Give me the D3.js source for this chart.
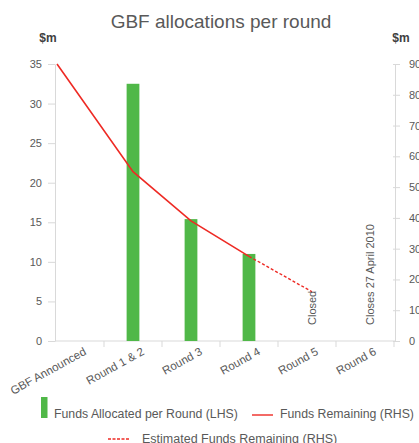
<!DOCTYPE html>
<html>
<head>
<meta charset="utf-8">
<script src="https://cdn.jsdelivr.net/npm/d3@7"></script>
<style>
  body { margin: 0; background: #fff; }
  svg { font-family: "Liberation Sans", Arial, sans-serif; }
</style>
</head>
<body>
<div id="chart"></div>
<script>
const categories = ["GBF Announced", "Round 1 & 2", "Round 3", "Round 4", "Round 5", "Round 6"];
const allocated = [null, 32.5, 15.4, 11.0, null, null];          // LHS, $m
const remaining = [90, 55, 39, 27.5];                             // RHS, GBF Announced .. Round 4
const estimated = [27.5, 16];                                     // RHS, Round 4 .. Round 5
const leftTicks = [0, 5, 10, 15, 20, 25, 30, 35];
const rightTicks = [0, 10, 20, 30, 40, 50, 60, 70, 80, 90];
const notes = [
  { cat: "Round 5", text: "Closed" },
  { cat: "Round 6", text: "Closes 27 April 2010" }
];

const W = 419, H = 443;
const plotLeft = 55, plotRight = 395, plotTop = 64, plotBottom = 341;
const textCol = "#595959", axisCol = "#d9d9d9";
const green = "#50b848", red = "#ee2a24";

const svg = d3.select("#chart")
  .append("svg")
  .attr("width", W)
  .attr("height", H);

const x = d3.scaleBand()
  .domain(categories)
  .range([46, 394]);

const yL = d3.scaleLinear().domain([0, 35]).range([plotBottom, plotTop]);
const yR = d3.scaleLinear().domain([0, 90]).range([plotBottom, plotTop]);

const cx = c => x(c) + x.bandwidth() / 2;

// title
svg.append("text")
  .attr("x", 221)
  .attr("y", 28)
  .attr("text-anchor", "middle")
  .attr("font-size", 19)
  .attr("fill", textCol)
  .text("GBF allocations per round");

// unit labels
svg.append("text")
  .attr("x", 48).attr("y", 42)
  .attr("text-anchor", "middle")
  .attr("font-size", 12).attr("font-weight", "bold")
  .attr("fill", "#404040")
  .text("$m");
svg.append("text")
  .attr("x", 401).attr("y", 42)
  .attr("text-anchor", "middle")
  .attr("font-size", 12).attr("font-weight", "bold")
  .attr("fill", "#404040")
  .text("$m");

// left axis
const gL = svg.append("g")
  .attr("transform", `translate(${plotLeft},0)`)
  .call(d3.axisLeft(yL).tickValues(leftTicks).tickSize(7).tickPadding(6).tickSizeOuter(0));

// right axis
const gR = svg.append("g")
  .attr("transform", `translate(${plotRight},0)`)
  .call(d3.axisRight(yR).tickValues(rightTicks).tickSize(5).tickPadding(9).tickSizeOuter(0));
gR.selectAll(".tick line").attr("x1", -2);

// x axis
const xAxis = svg.append("g").attr("transform", `translate(0,${plotBottom})`);
xAxis.append("line")
  .attr("x1", plotLeft).attr("x2", plotRight)
  .attr("stroke", axisCol);
xAxis.selectAll(".xt")
  .data(categories)
  .enter()
  .append("line")
  .attr("class", "xt")
  .attr("x1", d => x(d) + x.step())
  .attr("x2", d => x(d) + x.step())
  .attr("y1", 0).attr("y2", 6)
  .attr("stroke", axisCol);
xAxis.selectAll(".xl")
  .data(categories)
  .enter()
  .append("text")
  .attr("class", "xl")
  .attr("transform", d => `translate(${cx(d) + 12},13) rotate(-29)`)
  .attr("text-anchor", "end")
  .attr("font-size", 11.5)
  .attr("fill", textCol)
  .text(d => d);

[gL, gR].forEach(g => {
  g.select(".domain").attr("stroke", axisCol);
  g.selectAll(".tick line").attr("stroke", axisCol);
  g.selectAll(".tick text").attr("fill", textCol).attr("font-size", 11)
    .attr("font-family", "'Liberation Sans', Arial, sans-serif");
});

// bars
const barW = x.bandwidth() * 0.22;
svg.selectAll(".bar")
  .data(categories.map((c, i) => ({ c, v: allocated[i] })).filter(d => d.v != null))
  .enter()
  .append("rect")
  .attr("class", "bar")
  .attr("x", d => cx(d.c) - barW / 2)
  .attr("y", d => yL(d.v))
  .attr("width", barW)
  .attr("height", d => yL(0) - yL(d.v))
  .attr("fill", green);

// funds remaining line (first point sits on the left edge of the plot)
const lineX = (c, i) => i === 0 ? plotLeft + 2 : cx(c);
const line = d3.line().x(d => d.x).y(d => yR(d.v));

svg.append("path")
  .datum(remaining.map((v, i) => ({ x: lineX(categories[i], i), v })))
  .attr("d", line)
  .attr("fill", "none")
  .attr("stroke", red)
  .attr("stroke-width", 1.6);

const estStart = remaining.length - 1;
svg.append("path")
  .datum(estimated.map((v, i) => ({ x: lineX(categories[estStart + i], estStart + i) + (i ? 5 : 0), v })))
  .attr("d", line)
  .attr("fill", "none")
  .attr("stroke", red)
  .attr("stroke-width", 1.4)
  .attr("stroke-dasharray", "3,2");

// vertical notes
svg.selectAll(".note")
  .data(notes)
  .enter()
  .append("text")
  .attr("class", "note")
  .attr("transform", d => `translate(${cx(d.cat) + 9},325) rotate(-90)`)
  .attr("font-size", 11)
  .attr("fill", textCol)
  .text(d => d.text);

// legend
const leg = svg.append("g");
leg.append("rect")
  .attr("x", 41).attr("y", 397)
  .attr("width", 6.5).attr("height", 21)
  .attr("fill", green);
leg.append("text")
  .attr("x", 54).attr("y", 418)
  .attr("font-size", 12.3).attr("fill", textCol)
  .text("Funds Allocated per Round (LHS)");
leg.append("line")
  .attr("x1", 252).attr("x2", 273)
  .attr("y1", 415).attr("y2", 415)
  .attr("stroke", red).attr("stroke-width", 1.4);
leg.append("text")
  .attr("x", 280).attr("y", 418)
  .attr("font-size", 12.3).attr("fill", textCol)
  .text("Funds Remaining (RHS)");
leg.append("line")
  .attr("x1", 108).attr("x2", 129)
  .attr("y1", 439).attr("y2", 439)
  .attr("stroke", red).attr("stroke-width", 1.4)
  .attr("stroke-dasharray", "3,1.5");
leg.append("text")
  .attr("x", 142).attr("y", 443)
  .attr("font-size", 12.5).attr("fill", textCol)
  .text("Estimated Funds Remaining (RHS)");
</script>
</body>
</html>
